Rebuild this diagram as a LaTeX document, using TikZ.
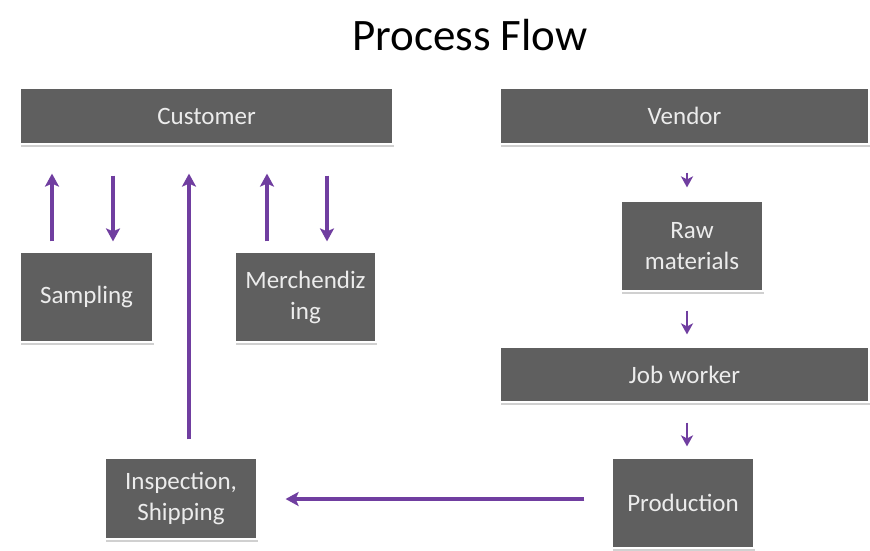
\documentclass[tikz,border=0pt]{standalone}
\usepackage{fontspec}
\setmainfont{Carlito}
\usetikzlibrary{arrows.meta,shadows}
\definecolor{boxfill}{RGB}{95,95,95}
\definecolor{boxtext}{RGB}{236,236,236}
\definecolor{arrowc}{RGB}{112,62,160}
\tikzset{
  pbox/.style={fill=boxfill, draw=white, line width=1.2pt, text=boxtext,
    font=\fontsize{25}{31}\selectfont, align=center, inner sep=0pt,
    drop shadow={shadow xshift=1pt, shadow yshift=-3pt, fill=black!30, opacity=0.6}},
  flow/.style={draw=arrowc, line width=3.2pt, -{Stealth[length=13pt,width=14pt,inset=3pt]}},
  sflow/.style={draw=arrowc, line width=2.8pt, -{Stealth[length=11pt,width=12pt,inset=3pt]}}
}
\begin{document}
\begin{tikzpicture}[x=1pt,y=-1pt]
\useasboundingbox (0,0) rectangle (870,550);
\fill[white] (0,0) rectangle (870,550);
\node[font=\fontsize{45}{54}\selectfont] (title) at (470,35) {Process Flow};
\node[pbox, minimum width=373pt, minimum height=56pt] (cust) at (206.5,116) {Customer};
\node[pbox, minimum width=369pt, minimum height=56pt] (vend) at (684.5,116) {Vendor};
\node[pbox, minimum width=133pt, minimum height=90pt] (samp) at (86.5,297) {Sampling};
\node[pbox, minimum width=141pt, minimum height=90pt] (merch) at (305.5,297) {Merchendiz\\ing};
\node[pbox, minimum width=142pt, minimum height=90pt] (raw) at (692,246) {Raw\\materials};
\node[pbox, minimum width=369pt, minimum height=55pt] (job) at (684.5,374.5) {Job worker};
\node[pbox, minimum width=152pt, minimum height=81pt] (insp) at (181,498.5) {Inspection,\\Shipping};
\node[pbox, minimum width=142pt, minimum height=90pt] (prod) at (683,503) {Production};
% customer <-> sampling
\draw[flow, shorten <=10pt, shorten >=29pt] (samp.north -| 52,0) -- (cust.south -| 52,0);
\draw[flow, shorten <=31pt, shorten >=10pt] (cust.south -| 113,0) -- (samp.north -| 113,0);
% inspection -> customer
\draw[flow, shorten <=18pt, shorten >=29pt] (insp.north -| 189,0) -- (cust.south -| 189,0);
% customer <-> merchandizing
\draw[flow, shorten <=10pt, shorten >=29pt] (merch.north -| 267,0) -- (cust.south -| 267,0);
\draw[flow, shorten <=31pt, shorten >=10pt] (cust.south -| 327,0) -- (merch.north -| 327,0);
% vendor chain
\draw[sflow, shorten <=28pt, shorten >=13pt] (vend.south -| 687,0) -- (raw.north -| 687,0);
\draw[sflow, shorten <=19pt, shorten >=12pt] (raw.south -| 687,0) -- (job.north -| 687,0);
\draw[sflow, shorten <=20pt, shorten >=11pt] (job.south -| 687,0) -- (prod.north -| 687,0);
% production -> inspection
\draw[flow, shorten <=27pt, shorten >=28pt] (prod.west |- 0,499) -- (insp.east |- 0,499);
\end{tikzpicture}
\end{document}
